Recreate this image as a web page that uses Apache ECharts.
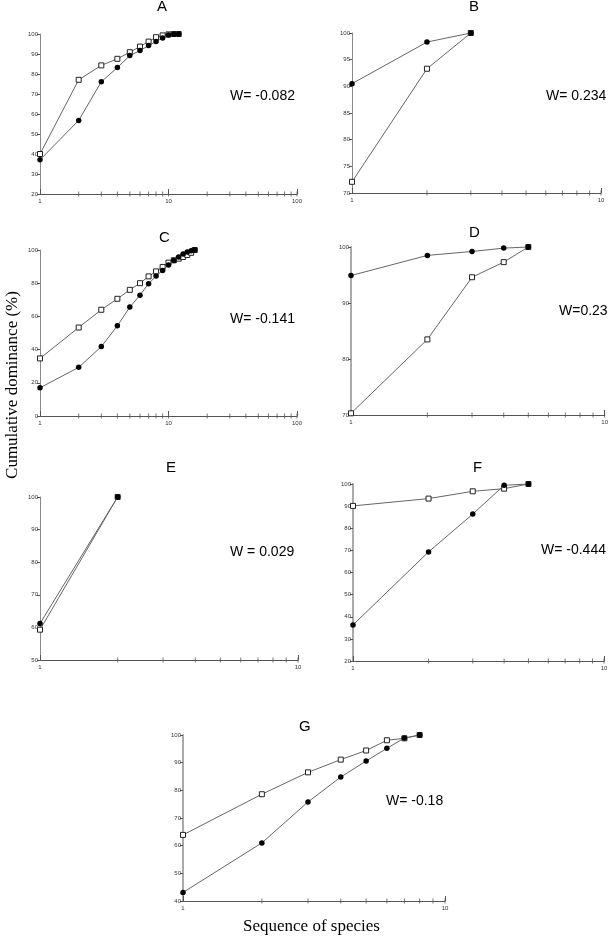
<!DOCTYPE html>
<html><head><meta charset="utf-8">
<script src="https://cdn.jsdelivr.net/npm/echarts@6/dist/echarts.min.js"></script>
<style>html,body{margin:0;padding:0;background:#fff}#c{width:611px;height:936px}</style>
</head><body><div id="c"></div>
<script>
// Panel data: cumulative dominance (%) by species rank (x = 1..n)
const panelNames = ['A','B','C','D','E','F','G'];
const wLabels = ['W= -0.082','W= 0.234','W= -0.141','W=0.23','W = 0.029','W= -0.444','W= -0.18'];
const aOpen   = [40, 77.1, 84.3, 87.6, 90.9, 93.7, 96.2, 98.4, 99.3, 99.8, 100, 100];
const aFilled = [37.1, 56.8, 76.1, 83.2, 89.2, 91.7, 94.2, 96.2, 98, 99.5, 99.9, 100];
const bOpen   = [72.1, 93.3, 100];
const bFilled = [90.5, 98.3, 100];
const cOpen   = [34.7, 53.3, 64, 70.6, 76, 80, 84.1, 87.1, 89.8, 92.4, 93.8, 94.8, 95.8, 97, 98.3, 100];
const cFilled = [17, 29.3, 41.8, 54.3, 65.6, 72.8, 79.7, 84.3, 87.7, 91, 93.6, 95.8, 97.6, 98.8, 99.6, 100];
const dOpen   = [70.3, 83.5, 94.6, 97.3, 100];
const dFilled = [94.9, 98.5, 99.2, 99.8, 100];
const eOpen   = [59.3, 100];
const eFilled = [61.2, 100];
const fOpen   = [90.1, 93.4, 96.7, 97.9, 100];
const fFilled = [36.3, 69.3, 86.4, 99.4, 100];
const gOpen   = [63.9, 78.6, 86.5, 91.1, 94.4, 98.1, 98.8, 100];
const gFilled = [43.1, 61, 75.8, 84.8, 90.6, 95.2, 98.9, 100];
const openSeries   = [aOpen, bOpen, cOpen, dOpen, eOpen, fOpen, gOpen];
const filledSeries = [aFilled, bFilled, cFilled, dFilled, eFilled, fFilled, gFilled];
// axis ranges / ticks
const xMax   = [100, 10, 100, 10, 10, 10, 10];
const yMin   = [20, 70, 0, 70, 50, 20, 40];
const yMax   = [100, 100, 100, 100, 100, 100, 100];
const yStep  = [10, 5, 20, 10, 10, 10, 10];
const minorTicksDecade1 = [2,3,4,5,6,7,8,9,10];
const minorTicksDecade2 = [20,30,40,50,60,70,80,90,100];

// layout (pixels)
const grids = [
  {left:40,  top:34,  width:257, height:160},
  {left:352, top:33,  width:249, height:160},
  {left:40,  top:250, width:257, height:166},
  {left:351, top:247, width:257, height:168},
  {left:40,  top:497, width:258, height:163},
  {left:353, top:484, width:251, height:177},
  {left:183, top:735, width:262, height:166}
];
const titlePos = [[163,7],[475,7],[165,238],[475,233],[172,468],[479,468],[305,727]];
const wPos = [[230,97],[546,97],[230,320],[559,312],[230,553],[541,551],[386,802]];
const yAxisWide = [false,false,false,true,false,true,true];

const xAxes = [], yAxes = [], series = [], graphics = [];
grids.forEach((g, i) => {
  xAxes.push({
    type:'log', logBase:10, min:1, max:xMax[i], gridIndex:i,
    axisLine:{show:true, lineStyle:{color:'#555', width:1}},
    axisTick:{show:true, inside:true, length:5, lineStyle:{color:'#555'}},
    axisLabel:{fontSize:6, color:'#333', margin:4, fontFamily:'Liberation Sans'},
    splitLine:{show:false}
  });
  yAxes.push({
    type:'value', min:yMin[i], max:yMax[i], interval:yStep[i], gridIndex:i,
    axisLine:{show:true, lineStyle:{color: yAxisWide[i] ? '#aaa' : '#888', width: yAxisWide[i] ? 2 : 1}},
    axisTick:{show:true, length:3, lineStyle:{color:'#555'}},
    axisLabel:{fontSize:6, color:'#333', margin:2, fontFamily:'Liberation Sans'},
    splitLine:{show:false}
  });
  const ticks = xMax[i] === 100 ? minorTicksDecade1.concat(minorTicksDecade2) : minorTicksDecade1;
  series.push({
    type:'scatter', xAxisIndex:i, yAxisIndex:i, silent:true, clip:false, z:1,
    symbol:'rect', symbolSize:[1,5],
    itemStyle:{color:'#555'},
    data: ticks.map(v => [v, yMin[i]])
  });
  series.push({
    type:'line', xAxisIndex:i, yAxisIndex:i, clip:false, z:3,
    symbol:'rect', symbolSize:5, showSymbol:true,
    lineStyle:{color:'#666', width:1},
    itemStyle:{color:'#fff', borderColor:'#222', borderWidth:1},
    data: openSeries[i].map((v, k) => [k + 1, v])
  });
  series.push({
    type:'line', xAxisIndex:i, yAxisIndex:i, clip:false, z:4,
    symbol:'circle', symbolSize:5.5, showSymbol:true,
    lineStyle:{color:'#666', width:1},
    itemStyle:{color:'#000', borderColor:'#000', borderWidth:0},
    data: filledSeries[i].map((v, k) => [k + 1, v])
  });
  graphics.push({
    type:'text', left:titlePos[i][0] - 6, top:titlePos[i][1] - 8,
    style:{text:panelNames[i], font:'15px "Liberation Sans"', fill:'#000'}
  });
  graphics.push({
    type:'text', left:wPos[i][0], top:wPos[i][1] - 8,
    style:{text:wLabels[i], font:'14px "Liberation Sans"', fill:'#000'}
  });
});
graphics.push({
  type:'text', left:305 - 62, top:918,
  style:{text:'Sequence of species', font:'17px "Liberation Serif"', fill:'#000'}
});
graphics.push({
  type:'text', x:4, y:385, rotation:Math.PI/2,
  style:{text:'Cumulative dominance (%)', font:'17px "Liberation Serif"', fill:'#000', align:'center', verticalAlign:'top'}
});

const chart = echarts.init(document.getElementById('c'), null, {renderer:'canvas'});
chart.setOption({
  animation:false,
  backgroundColor:'#fff',
  grid: grids.map(g => Object.assign({containLabel:false}, g)),
  xAxis: xAxes, yAxis: yAxes, series: series, graphic: graphics
});
</script></body></html>
